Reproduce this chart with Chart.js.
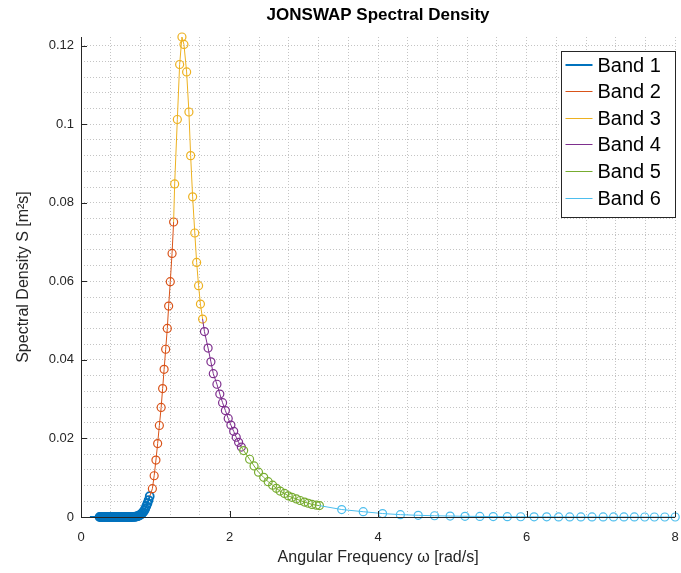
<!DOCTYPE html>
<html>
<head>
<meta charset="utf-8">
<script src="https://cdn.jsdelivr.net/npm/chart.js@4"></script>
<style>
  html, body { margin: 0; padding: 0; background: #fff; }
</style>
</head>
<body>
<canvas id="spectrum-chart" width="681" height="573"></canvas>
<script>
// frequency (rad/s) and spectral density per band
const band1W = [0.12, 0.25, 0.265, 0.28, 0.295, 0.31, 0.325, 0.34, 0.355, 0.37, 0.385, 0.40, 0.415, 0.43, 0.445,
  0.46, 0.475, 0.49, 0.505, 0.52, 0.535, 0.55, 0.565, 0.58, 0.595, 0.61, 0.625, 0.64, 0.655, 0.67, 0.685,
  0.70, 0.715, 0.73, 0.745, 0.76, 0.775, 0.79, 0.805, 0.82, 0.835, 0.85, 0.865, 0.88, 0.895, 0.91, 0.925];
const band1S = [0, 0, 0, 0, 0, 0, 0, 0, 0, 0, 0, 0, 0, 0, 0,
  0, 0, 0, 0, 0, 0, 0, 0, 0, 0, 0, 0, 0, 0, 0, 0,
  0.00002, 0.00004, 0.00007, 0.00012, 0.0002, 0.0003, 0.00045, 0.00065, 0.0009, 0.0012, 0.0016, 0.0021,
  0.0028, 0.0035, 0.0043, 0.0053];

const band2W = [0.961, 0.985, 1.009, 1.032, 1.055, 1.079, 1.099, 1.119, 1.140, 1.162, 1.180, 1.202, 1.226, 1.247];
const band2S = [0.0072, 0.0105, 0.0145, 0.0187, 0.0233, 0.0279, 0.0327, 0.0376, 0.0427, 0.0480, 0.0537, 0.0599, 0.0671, 0.0751];

const band3W = [1.261, 1.297, 1.328, 1.359, 1.386, 1.422, 1.453, 1.476, 1.503, 1.532, 1.557, 1.583, 1.608, 1.637];
const band3S = [0.0848, 0.1012, 0.1152, 0.1222, 0.1203, 0.1133, 0.1031, 0.0920, 0.0815, 0.0723, 0.0648, 0.0589, 0.0542, 0.0504];

const band4W = [1.662, 1.711, 1.749, 1.781, 1.830, 1.869, 1.906, 1.944, 1.982, 2.018, 2.056, 2.090, 2.122, 2.159];
const band4S = [0.0472, 0.0430, 0.0395, 0.0365, 0.0338, 0.0313, 0.0291, 0.0271, 0.0251, 0.0234, 0.0218, 0.0203, 0.0190, 0.0178];

const band5W = [2.19, 2.27, 2.33, 2.39, 2.46, 2.52, 2.58, 2.63, 2.68, 2.74, 2.79, 2.84, 2.90, 2.95, 3.01, 3.06, 3.11, 3.17, 3.21];
const band5S = [0.0169, 0.0147, 0.0130, 0.0114, 0.0101, 0.0090, 0.0081, 0.0073, 0.0066, 0.0060, 0.0054, 0.0050,
  0.0046, 0.0042, 0.0038, 0.0035, 0.0032, 0.0030, 0.0029];

const band6W = [3.51, 3.80, 4.06, 4.30, 4.54, 4.76, 4.97, 5.17, 5.37, 5.55, 5.74, 5.92, 6.10, 6.27, 6.43, 6.58,
  6.73, 6.88, 7.03, 7.17, 7.31, 7.45, 7.59, 7.72, 7.86, 8.00];
const band6S = [0.0019, 0.00135, 0.00088, 0.0006, 0.00043, 0.00032, 0.00024, 0.00018, 0.00014, 0.00011, 0.00008,
  0.00006, 0.00005, 0.00004, 0.00003, 0.000025, 0.00002, 0.000016, 0.000013, 0.000011, 0.000009, 0.000007,
  0.000006, 0.000005, 0.000004, 0.000003];

const bandLabels = ['Band 1', 'Band 2', 'Band 3', 'Band 4', 'Band 5', 'Band 6'];
const xMajorTicks = [0, 2, 4, 6, 8];
const xTickLabels = ['0', '2', '4', '6', '8'];
const yMajorTicks = [0, 0.02, 0.04, 0.06, 0.08, 0.1, 0.12];
const yTickLabels = ['0', '0.02', '0.04', '0.06', '0.08', '0.1', '0.12'];
const xMax = 8;
const yMax = 0.1222;

const bandColors = ['#0072BD', '#D95319', '#EDB120', '#7E2F8E', '#77AC30', '#4DBEEE'];
const bandWidths = [2, 1, 1, 1, 1, 1];
const markerWidths = [1.8, 1.2, 1.2, 1.2, 1.2, 1.2];
const axisColor = '#262626';
const gridColor = '#c4c4c4';
const fontFamily = '"Liberation Sans", Arial, Helvetica, sans-serif';

Chart.defaults.font.family = fontFamily;

const bands = [
  [band1W, band1S], [band2W, band2S], [band3W, band3S],
  [band4W, band4S], [band5W, band5S], [band6W, band6S],
];

// each band's line starts at the previous band's last point (no marker there)
const datasets = bands.map(([w, s], i) => {
  const pts = w.map((v, k) => ({ x: v, y: s[k] }));
  if (i > 0) {
    const [pw, ps] = bands[i - 1];
    pts.unshift({ x: pw[pw.length - 1], y: ps[ps.length - 1] });
  }
  return {
    label: bandLabels[i],
    data: pts,
    borderColor: bandColors[i],
    borderWidth: bandWidths[i],
    pointStyle: 'circle',
    pointRadius: (ctx) => (ctx.dataIndex === 0 ? 0 : 4),
    pointBorderWidth: markerWidths[i],
    pointBorderColor: bandColors[i],
    pointBackgroundColor: 'rgba(0,0,0,0)',
    tension: 0,
    clip: false,
    order: bands.length - i,
  };
});

function findTick(list, value) {
  return list.findIndex((t) => Math.abs(t - value) < 1e-9);
}

function onStep(value, step) {
  const r = value / step;
  return Math.abs(r - Math.round(r)) < 1e-6;
}

// axis lines, inward tick marks and the boxed legend
const matlabLook = {
  id: 'matlabLook',
  afterDatasetsDraw(chart) {
    const { ctx, chartArea: a, scales: { x, y } } = chart;
    ctx.save();
    ctx.strokeStyle = axisColor;
    ctx.lineWidth = 1;
    ctx.beginPath();
    ctx.moveTo(a.left + 0.5, a.top);
    ctx.lineTo(a.left + 0.5, a.bottom + 0.5);
    ctx.lineTo(a.right, a.bottom + 0.5);
    xMajorTicks.forEach((v) => {
      const px = Math.round(x.getPixelForValue(v)) + 0.5;
      ctx.moveTo(px, a.bottom);
      ctx.lineTo(px, a.bottom - 6);
    });
    yMajorTicks.forEach((v) => {
      const py = Math.round(y.getPixelForValue(v)) + 0.5;
      ctx.moveTo(a.left, py);
      ctx.lineTo(a.left + 6, py);
    });
    ctx.stroke();
    ctx.restore();
  },
  afterDraw(chart) {
    const { ctx, chartArea: a } = chart;
    const boxW = 114, boxH = 166, rowH = 26.6;
    const left = Math.round(a.right - boxW) + 0.5;
    const top = Math.round(a.top + 14) + 0.5;
    ctx.save();
    ctx.fillStyle = '#fff';
    ctx.fillRect(left, top, boxW, boxH);
    ctx.strokeStyle = axisColor;
    ctx.lineWidth = 1;
    ctx.strokeRect(left, top, boxW, boxH);
    ctx.font = '20px ' + fontFamily;
    ctx.textBaseline = 'middle';
    ctx.textAlign = 'left';
    chart.data.datasets.forEach((ds, i) => {
      const cy = Math.round(top + 13 + i * rowH) + (ds.borderWidth % 2 ? 0.5 : 0);
      ctx.beginPath();
      ctx.strokeStyle = ds.borderColor;
      ctx.lineWidth = ds.borderWidth;
      ctx.moveTo(left + 4, cy);
      ctx.lineTo(left + 31, cy);
      ctx.stroke();
      ctx.fillStyle = '#000';
      ctx.fillText(ds.label, left + 36, cy + 1);
    });
    ctx.restore();
  },
};

const ctx = document.getElementById('spectrum-chart').getContext('2d');

const spectrumChart = new Chart(ctx, {
  type: 'line',
  data: { datasets: datasets },
  options: {
    responsive: false,
    animation: false,
    layout: { padding: { left: 0, right: 4, top: 0, bottom: 0 } },
    plugins: {
      legend: { display: false },
      tooltip: { enabled: false },
      title: {
        display: true,
        fullSize: false, // centre over the plot area, as MATLAB does
        text: 'JONSWAP Spectral Density',
        color: '#000',
        font: { size: 17, weight: 'bold' },
        padding: { top: 5, bottom: 11.6 },
      },
    },
    scales: {
      x: {
        type: 'linear',
        min: 0,
        max: xMax,
        afterFit: (s) => { s.height = 56; s.paddingLeft = 0; s.paddingRight = 0; },
        ticks: {
          stepSize: 0.4,
          autoSkip: false,
          maxRotation: 0,
          padding: 13,
          color: axisColor,
          font: { size: 13 },
          callback: (value) => {
            const i = findTick(xMajorTicks, value);
            return i >= 0 ? xTickLabels[i] : '';
          },
        },
        grid: {
          drawTicks: false,
          lineWidth: 1,
          color: (c) => (onStep(c.tick.value, 0.4) ? gridColor : 'rgba(0,0,0,0)'),
        },
        border: { display: false, dash: [1, 2] },
        title: {
          display: true,
          text: 'Angular Frequency ω [rad/s]',
          color: axisColor,
          font: { size: 16 },
          padding: { top: 0, bottom: 5.4 },
        },
      },
      y: {
        type: 'linear',
        min: 0,
        max: yMax,
        afterFit: (s) => { s.width = 81; },
        ticks: {
          stepSize: 0.004,
          includeBounds: false,
          autoSkip: false,
          padding: 7,
          color: axisColor,
          font: { size: 13 },
          callback: (value) => {
            const i = findTick(yMajorTicks, value);
            return i >= 0 ? yTickLabels[i] : '';
          },
        },
        grid: {
          drawTicks: false,
          lineWidth: 1,
          color: (c) => (onStep(c.tick.value, 0.004) ? gridColor : 'rgba(0,0,0,0)'),
        },
        border: { display: false, dash: [1, 2] },
        title: {
          display: true,
          text: 'Spectral Density S [m²s]',
          color: axisColor,
          font: { size: 16 },
          padding: { top: 14.4, bottom: 0 },
        },
      },
    },
  },
  plugins: [matlabLook],
});
</script>
</body>
</html>
